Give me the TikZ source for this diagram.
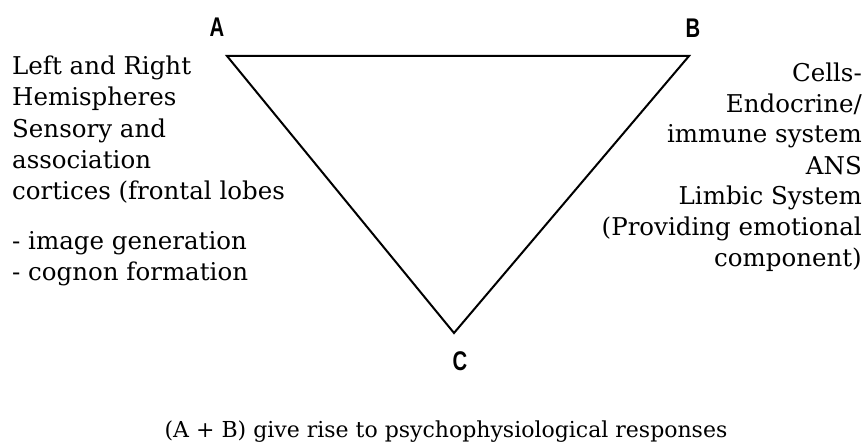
\documentclass[tikz,border=0pt]{standalone}
\usepackage{fontspec}
\setmainfont{DejaVu Serif}
\newfontfamily\labfont{Liberation Sans}
\tikzset{
  body/.style={inner sep=0pt, font=\fontsize{24.5}{30}\selectfont},
  captxt/.style={inner sep=0pt, anchor=base, font=\fontsize{22}{26}\selectfont},
  lefttxt/.style={body, anchor=base west},
  righttxt/.style={body, anchor=base east},
  vlabel/.style={inner sep=0pt, anchor=center, font=\labfont\bfseries\fontsize{27}{30}\selectfont},
  edge/.style={line width=2pt, line join=miter}
}
\begin{document}
\begin{tikzpicture}[x=1pt,y=-1pt]
\useasboundingbox (0,0) rectangle (866,443);
% vertices
\coordinate (A) at (227,56);
\coordinate (B) at (689,56);
\coordinate (C) at (454,333);
\draw[edge] (A) -- (B) -- (C) -- cycle;
% vertex labels
\node[vlabel] (la) at (217,27) {\scalebox{0.75}[1]{A}};
\node[vlabel] (lb) at (693,28) {\scalebox{0.75}[1]{B}};
\node[vlabel] (lc) at (460,361) {\scalebox{0.75}[1]{C}};
% left text
\node[lefttxt] (l1) at (12,75) {Left and Right};
\node[lefttxt] (l2) at (12,106) {Hemispheres};
\node[lefttxt] (l3) at (12,137.5) {Sensory and};
\node[lefttxt] (l4) at (12,169) {association};
\node[lefttxt] (l5) at (12,200) {cortices (frontal lobes};
\node[lefttxt] (l6) at (12,250) {- image generation};
\node[lefttxt] (l7) at (12,280) {- cognon formation};
% right text
\node[righttxt] (r1) at (862,82) {Cells-};
\node[righttxt] (r2) at (862,112.5) {Endocrine/};
\node[righttxt] (r3) at (862,143) {immune system};
\node[righttxt] (r4) at (862,174.5) {ANS};
\node[righttxt] (r5) at (862,204.5) {Limbic System};
\node[righttxt] (r6) at (862,235.5) {(Providing emotional};
\node[righttxt] (r7) at (862,267) {component)};
% caption
\node[captxt] (cap) at (446,437) {(A + B) give rise to psychophysiological responses};
\end{tikzpicture}
\end{document}
